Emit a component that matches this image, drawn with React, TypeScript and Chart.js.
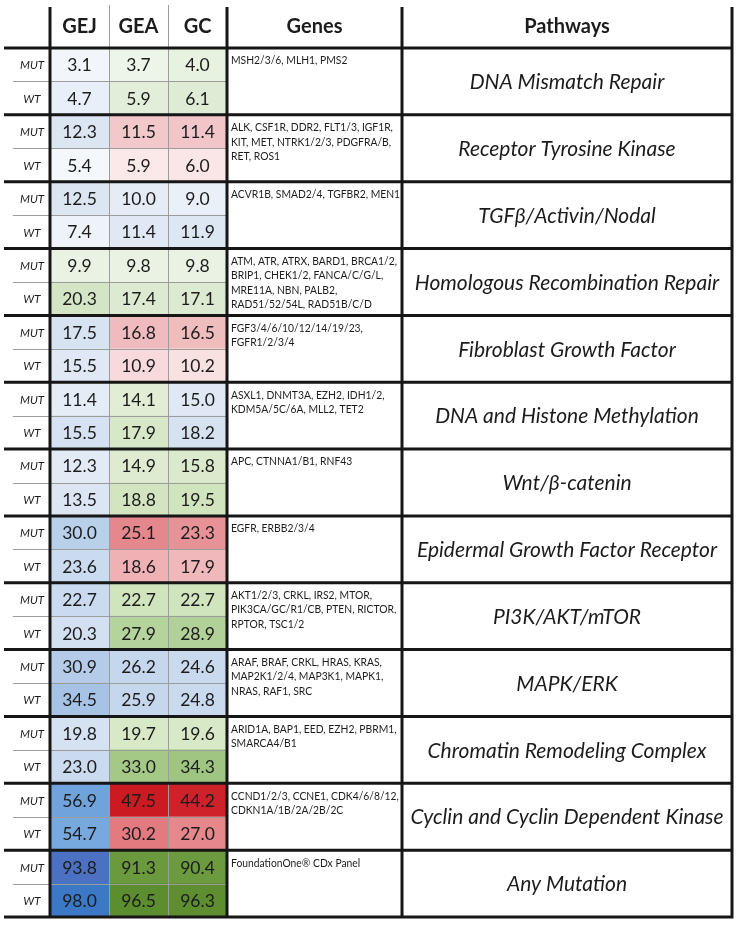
import React, { useEffect, useRef } from 'react';
import { Chart, registerables } from 'chart.js';

Chart.register(...registerables);

const columns = ['GEJ', 'GEA', 'GC'];
const rowTypes = ['MUT', 'WT'];

const pathways = [
  'DNA Mismatch Repair',
  'Receptor Tyrosine Kinase',
  'TGFβ/Activin/Nodal',
  'Homologous Recombination Repair',
  'Fibroblast Growth Factor',
  'DNA and Histone Methylation',
  'Wnt/β-catenin',
  'Epidermal Growth Factor Receptor',
  'PI3K/AKT/mTOR',
  'MAPK/ERK',
  'Chromatin Remodeling Complex',
  'Cyclin and Cyclin Dependent Kinase',
  'Any Mutation',
];

const genes = [
  ['MSH2/3/6, MLH1, PMS2'],
  ['ALK, CSF1R, DDR2, FLT1/3, IGF1R,', 'KIT, MET, NTRK1/2/3, PDGFRA/B,', 'RET, ROS1'],
  ['ACVR1B, SMAD2/4, TGFBR2, MEN1'],
  ['ATM, ATR, ATRX, BARD1, BRCA1/2,', 'BRIP1, CHEK1/2, FANCA/C/G/L,', 'MRE11A, NBN, PALB2,', 'RAD51/52/54L, RAD51B/C/D'],
  ['FGF3/4/6/10/12/14/19/23,', 'FGFR1/2/3/4'],
  ['ASXL1, DNMT3A, EZH2, IDH1/2,', 'KDM5A/5C/6A, MLL2, TET2'],
  ['APC, CTNNA1/B1, RNF43'],
  ['EGFR, ERBB2/3/4'],
  ['AKT1/2/3, CRKL, IRS2, MTOR,', 'PIK3CA/GC/R1/CB, PTEN, RICTOR,', 'RPTOR, TSC1/2'],
  ['ARAF, BRAF, CRKL, HRAS, KRAS,', 'MAP2K1/2/4, MAP3K1, MAPK1,', 'NRAS, RAF1, SRC'],
  ['ARID1A, BAP1, EED, EZH2, PBRM1,', 'SMARCA4/B1'],
  ['CCND1/2/3, CCNE1, CDK4/6/8/12,', 'CDKN1A/1B/2A/2B/2C'],
  ['FoundationOne® CDx Panel'],
];

const gejMut = [3.1, 12.3, 12.5, 9.9, 17.5, 11.4, 12.3, 30.0, 22.7, 30.9, 19.8, 56.9, 93.8];
const gejWt = [4.7, 5.4, 7.4, 20.3, 15.5, 15.5, 13.5, 23.6, 20.3, 34.5, 23.0, 54.7, 98.0];
const geaMut = [3.7, 11.5, 10.0, 9.8, 16.8, 14.1, 14.9, 25.1, 22.7, 26.2, 19.7, 47.5, 91.3];
const geaWt = [5.9, 5.9, 11.4, 17.4, 10.9, 17.9, 18.8, 18.6, 27.9, 25.9, 33.0, 30.2, 96.5];
const gcMut = [4.0, 11.4, 9.0, 9.8, 16.5, 15.0, 15.8, 23.3, 22.7, 24.6, 19.6, 44.2, 90.4];
const gcWt = [6.1, 6.0, 11.9, 17.1, 10.2, 18.2, 19.5, 17.9, 28.9, 24.8, 34.3, 27.0, 96.3];

// cell fill colours (MUT, WT interleaved per pathway)
const gejColors = [
  '#f2f6fb', '#e8eff8', '#dce6f3', '#f4f7fc', '#dce6f3', '#eef3fa', '#eaf3e3', '#d3e5c4',
  '#d8e3f2', '#dfe8f4', '#e4ecf6', '#d6e2f1', '#e2eaf5', '#dbe5f3', '#b9d0eb', '#cbdbef',
  '#cbdbef', '#d2e0f1', '#b4cce9', '#a6c3e5', '#d5e2f2', '#cbdbef', '#70a3dc', '#77a8de',
  '#4c70c2', '#3b78c6',
];
const geaColors = [
  '#edf5e8', '#e2eed9', '#f2c8ca', '#fbe8e9', '#e5ecf6', '#dfe8f4', '#eaf3e3', '#dbead0',
  '#f0bbbe', '#f8dadc', '#e1edd4', '#d6e8c7', '#deebd1', '#d2e5c0', '#e4888e', '#efb1b4',
  '#d0e4bd', '#b5d49c', '#c5d7ed', '#c5d7ed', '#d7e9c6', '#a4c987', '#cb1a21', '#e27a80',
  '#6a9a3d', '#5c8d2f',
];
const gcColors = [
  '#e8f2e1', '#dfecd5', '#f2c6c8', '#fae6e7', '#eaf0f8', '#dde7f4', '#eaf3e3', '#dcead1',
  '#f0bdbf', '#f9e0e1', '#dfe8f4', '#d7e2f1', '#dbe9cd', '#d0e4bd', '#e79297', '#f1b8bb',
  '#d0e4bd', '#b1d198', '#c9d9ee', '#c9d9ee', '#d7e9c6', '#9ec582', '#cd2229', '#e6878c',
  '#6b9b3e', '#5e8e30',
];

const FONT = 'Lato, "Open Sans", sans-serif';

function interleave(a: number[], b: number[]): number[] {
  const out: number[] = [];
  a.forEach((v, i) => out.push(v, b[i]));
  return out;
}

export default function App() {
  const ref = useRef<HTMLCanvasElement>(null);

  useEffect(() => {
    document.body.style.margin = '0';
    const canvas = ref.current;
    if (!canvas) return;

    const rows: string[] = [];
    pathways.forEach(() => rowTypes.forEach((t) => rows.push(t)));
    const colValues = [interleave(gejMut, gejWt), interleave(geaMut, geaWt), interleave(gcMut, gcWt)];
    const colColors = [gejColors, geaColors, gcColors];

    const datasets = columns.map((c, ci) => ({
      label: c,
      data: rows.map(() => [ci, ci + 1]),
      backgroundColor: colColors[ci],
      borderWidth: 0,
      barPercentage: 1,
      categoryPercentage: 1,
      grouped: false,
    }));

    const tablePlugin = {
      id: 'tablePlugin',
      afterDatasetsDraw(chart: any) {
        const { ctx, chartArea: ca, scales } = chart;
        const x = scales.x;
        const y = scales.y;
        const band = y.getPixelForValue(1) - y.getPixelForValue(0);
        const rowTop = (i: number) => y.getPixelForValue(i) - band / 2;
        const colX = (c: number) => x.getPixelForValue(c);
        const labelLeft = ca.left - 46;
        const genesRight = ca.right + 175;
        const pathRight = ca.right + 505;
        const ink = '#1c1c1c';

        ctx.save();
        // values
        ctx.fillStyle = ink;
        ctx.textAlign = 'center';
        ctx.textBaseline = 'middle';
        ctx.font = `17.5px ${FONT}`;
        colValues.forEach((vals, ci) => {
          vals.forEach((v, i) => {
            ctx.fillText(v.toFixed(1), colX(ci + 0.5), y.getPixelForValue(i) + 1);
          });
        });

        // row labels MUT / WT
        ctx.font = `italic 11.5px ${FONT}`;
        rows.forEach((r, i) => {
          ctx.fillText(r, labelLeft + 28, y.getPixelForValue(i) + 1);
        });

        // headers
        ctx.font = `bold 20px ${FONT}`;
        columns.forEach((c, ci) => ctx.fillText(c, colX(ci + 0.5), 27));
        ctx.fillText('Genes', (ca.right + genesRight) / 2, 27);
        ctx.fillText('Pathways', (genesRight + pathRight) / 2, 27);

        // genes (horizontally condensed to mimic the narrow original face)
        ctx.font = `12px ${FONT}`;
        ctx.textAlign = 'left';
        ctx.textBaseline = 'top';
        genes.forEach((lines, g) => {
          lines.forEach((ln, k) => {
            ctx.save();
            ctx.translate(ca.right + 4, rowTop(2 * g) + 6.5 + k * 14.3);
            ctx.scale(0.86, 1);
            ctx.fillText(ln, 0, 0);
            ctx.restore();
          });
        });

        // pathways
        ctx.font = `italic 21px ${FONT}`;
        ctx.textAlign = 'center';
        ctx.textBaseline = 'middle';
        pathways.forEach((p, g) => {
          ctx.fillText(p, (genesRight + pathRight) / 2, rowTop(2 * g + 1) + 1);
        });

        // thin lines
        ctx.strokeStyle = '#9c9c9c';
        ctx.lineWidth = 1;
        ctx.beginPath();
        pathways.forEach((_, g) => {
          const yy = Math.round(rowTop(2 * g + 1)) + 0.5;
          ctx.moveTo(labelLeft + 9, yy);
          ctx.lineTo(ca.right, yy);
        });
        [1, 2].forEach((c) => {
          const xx = Math.round(colX(c)) + 0.5;
          ctx.moveTo(xx, 5);
          ctx.lineTo(xx, ca.bottom);
        });
        ctx.stroke();

        // thick lines
        ctx.strokeStyle = '#161616';
        ctx.lineWidth = 3;
        ctx.beginPath();
        for (let g = 0; g <= pathways.length; g++) {
          const yy = rowTop(2 * g);
          ctx.moveTo(labelLeft, yy);
          ctx.lineTo(pathRight + 1.5, yy);
        }
        [ca.left, ca.right, genesRight, pathRight].forEach((xx) => {
          ctx.moveTo(xx, 7);
          ctx.lineTo(xx, ca.bottom + 1.5);
        });
        ctx.stroke();
        ctx.restore();
      },
    };

    const chart = new Chart(canvas, {
      type: 'bar',
      data: { labels: rows, datasets: datasets as any },
      options: {
        indexAxis: 'y',
        responsive: false,
        animation: false,
        layout: { padding: { left: 50, right: 510, top: 48, bottom: 9 } },
        scales: {
          x: { type: 'linear', min: 0, max: 3, display: false },
          y: { type: 'category', display: false, offset: true },
        },
        plugins: { legend: { display: false }, tooltip: { enabled: false } },
      },
      plugins: [tablePlugin],
    });
    return () => chart.destroy();
  }, []);

  return (
    <canvas
      ref={ref}
      width={737}
      height={926}
      style={{ display: 'block', width: 737, height: 926 }}
    />
  );
}
